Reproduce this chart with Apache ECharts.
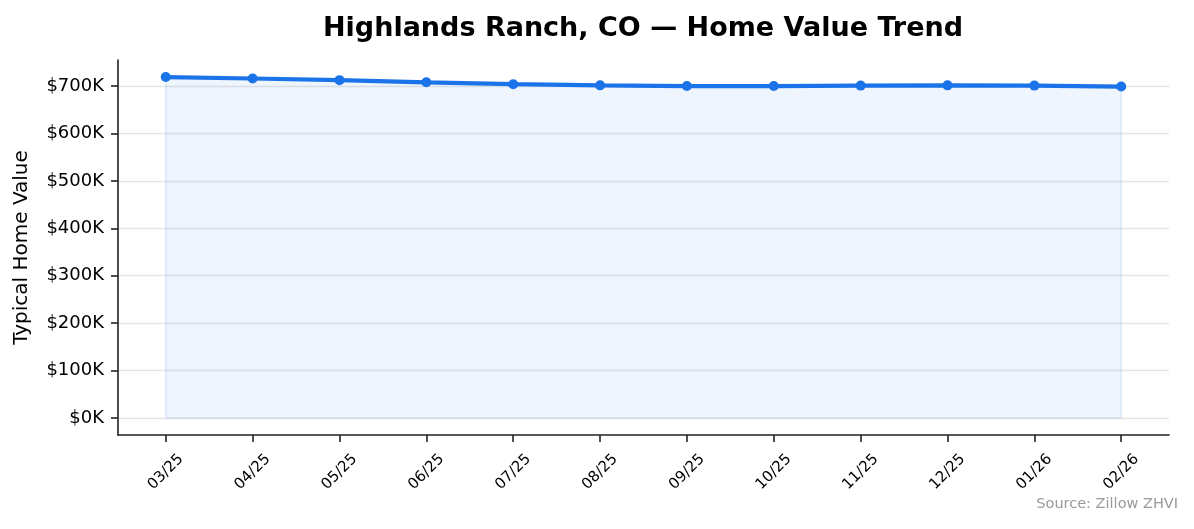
<!DOCTYPE html>
<html><head><meta charset="utf-8">
<script src="https://cdn.jsdelivr.net/npm/echarts@6/dist/echarts.min.js"></script>
<style>html,body{margin:0;padding:0;background:#fff}#c{width:1194px;height:529px}</style>
</head><body><div id="c"></div>
<script>
const categories = ["03/25","04/25","05/25","06/25","07/25","08/25","09/25","10/25","11/25","12/25","01/26","02/26"];
const values = [719000, 716000, 712500, 708000, 704000, 701500, 700000, 700000, 701000, 701500, 701000, 699000];
const yTicks = [0, 100000, 200000, 300000, 400000, 500000, 600000, 700000];
const xTicks = categories.map((c, i) => i);

const font = "DejaVu Sans";
const last = values.length - 1;
const chart = echarts.init(document.getElementById('c'), null, {renderer: 'canvas'});
chart.setOption({
  animation: false,
  backgroundColor: '#fff',
  title: {
    text: 'Highlands Ranch, CO — Home Value Trend',
    left: 638, top: 10, textAlign: 'center',
    textStyle: {fontFamily: font, fontSize: 27, fontWeight: 'bold', color: '#000'}
  },
  graphic: [{
    type: 'text', right: 16, top: 497,
    style: {text: 'Source: Zillow ZHVI', fontFamily: font, fontSize: 14.5, fill: '#999'}
  }],
  grid: {left: 118, right: 25, top: 60, bottom: 94, containLabel: false},
  xAxis: {
    type: 'value', min: -0.55, max: 11.55,
    axisLine: {show: true, onZero: false, lineStyle: {color: '#222', width: 1.6}},
    axisTick: {show: true, length: 7, customValues: xTicks, lineStyle: {color: '#222', width: 1.6}},
    axisLabel: {customValues: xTicks, rotate: 45, align: 'center', verticalAlign: 'middle', margin: 37,
      fontFamily: font, fontSize: 15, color: '#000',
      formatter: v => categories[Math.round(v)]},
    splitLine: {show: false}
  },
  yAxis: {
    type: 'value', min: -36000, max: 755000,
    name: 'Typical Home Value', nameLocation: 'middle', nameGap: 86, nameRotate: 90,
    nameTextStyle: {fontFamily: font, fontSize: 20, color: '#000'},
    axisLine: {show: true, onZero: false, lineStyle: {color: '#222', width: 1.6}},
    axisTick: {show: true, length: 7, customValues: yTicks, lineStyle: {color: '#222', width: 1.6}},
    axisLabel: {customValues: yTicks, margin: 14, fontFamily: font, fontSize: 18, color: '#000',
      formatter: v => '$' + Math.round(v / 1000) + 'K'},
    splitLine: {show: true, lineStyle: {color: '#e5e5e5', width: 1.3}}
  },
  series: [{
    type: 'line',
    data: values.map((v, i) => [i, v]),
    symbol: 'circle', symbolSize: 10,
    itemStyle: {color: '#1a73e8'},
    lineStyle: {color: '#1a73e8', width: 4.2},
    areaStyle: {color: 'rgba(26,115,232,0.1)', origin: 0},
    z: 3
  }, {
    type: 'line',
    data: [[0, values[0]], [0, 0], [last, 0], [last, values[last]]],
    symbol: 'none',
    lineStyle: {color: 'rgba(26,115,232,0.12)', width: 1.5},
    silent: true, z: 2
  }]
});
</script></body></html>
